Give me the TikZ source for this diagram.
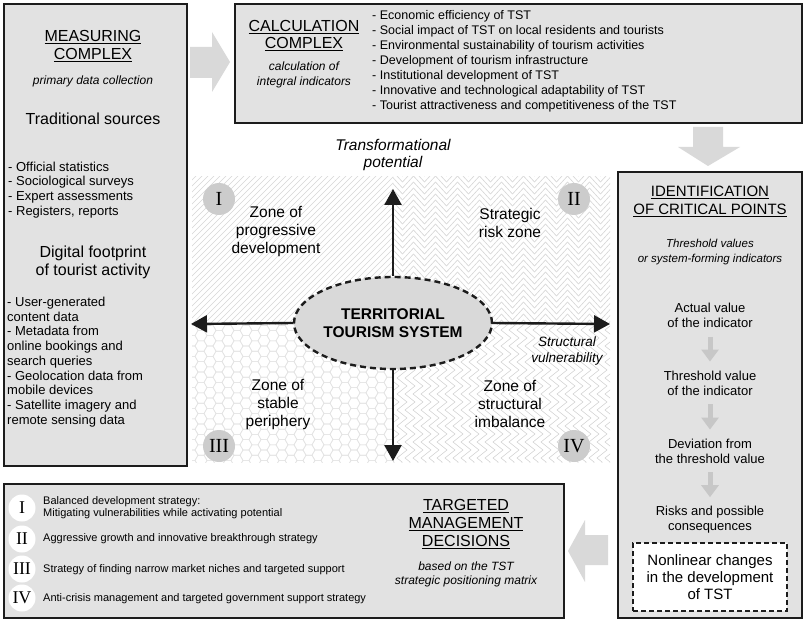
\documentclass[tikz,border=0pt]{standalone}
\usepackage{fontspec}
\setmainfont{Liberation Sans}
\newfontfamily\romanfont{Liberation Serif}
\usetikzlibrary{shapes.geometric,arrows.meta,decorations.pathmorphing}
\definecolor{boxfill}{HTML}{E2E2E2}
\definecolor{bigarrow}{HTML}{D9D9D9}
\definecolor{pat}{HTML}{D6D6D6}
\definecolor{patlight}{HTML}{E4E4E4}
\definecolor{ink}{HTML}{1C1C1C}
\newcommand\fsz[2]{\fontsize{#1}{#2}\selectfont}
\begin{document}
\begin{tikzpicture}[x=1pt,y=-1pt,
  box/.style={draw=ink, line width=2.4, fill=boxfill, inner sep=0, anchor=north west},
  hdr/.style={font=\fsz{16}{18}, align=center, inner sep=1},
  sub/.style={font=\fsz{12}{15}\itshape, align=center, inner sep=1},
  lst/.style={font=\fsz{13}{14.75}, align=left, anchor=west, inner sep=0},
  clst/.style={font=\fsz{12.5}{15}, align=left, anchor=west, inner sep=0},
  stxt/.style={font=\fsz{13}{15}, align=center, inner sep=2},
  zone/.style={font=\fsz{15.5}{18}, align=center, inner sep=1},
  strat/.style={font=\fsz{11}{11.5}, align=left, anchor=west, inner sep=0},
  rom/.style={circle, fill=black!20, minimum size=32, inner sep=0, font=\romanfont\fsz{20}{20}},
  romw/.style={circle, fill=white, minimum size=27, inner sep=0, font=\romanfont\fsz{18}{18}},
  axis/.style={draw=ink, line width=2.4, -{Triangle[length=16,width=17]}},
  sarrow/.style={draw=black!22, line width=5, -{Triangle[length=12,width=17]}, shorten <=7, shorten >=7},
  pline/.style={draw=pat, line width=0.6}
]
% canvas
\path[fill=white] (0,0) rectangle (803,620);
\useasboundingbox (0,0) rectangle (803,620);

% ---------- quadrant patterns ----------
\begin{scope}
  \clip (192,177) rectangle (393,324);
  \foreach \i in {40,46,...,400} \draw[pline] (\i,326) -- (\i+152,174);
\end{scope}
\begin{scope}
  \clip (393,177) rectangle (610,324);
  \foreach \y in {170,176,...,332} \draw[pline, decorate, decoration={zigzag, segment length=22, amplitude=6}] (386,\y) -- (618,\y);
\end{scope}
\begin{scope}
  \clip (192,324) rectangle (393,462);
  \foreach \c in {0,...,23} {
    \foreach \r in {0,...,14} {
      \pgfmathsetmacro\cx{192+\c*9}
      \pgfmathsetmacro\cy{320+\r*10.4+mod(\c,2)*5.2}
      \draw[draw=patlight, line width=0.6] (\cx+6,\cy) -- (\cx+3,\cy+5.2) -- (\cx-3,\cy+5.2) -- (\cx-6,\cy) -- (\cx-3,\cy-5.2) -- (\cx+3,\cy-5.2) -- cycle;
    }
  }
\end{scope}
\begin{scope}
  \clip (393,324) rectangle (610,462);
  \foreach \x in {386,394,...,618} \draw[pline, decorate, decoration={zigzag, segment length=16, amplitude=5}] (\x,318) -- (\x,468);
\end{scope}

% ---------- boxes ----------
\node[box, minimum width=183, minimum height=462] (meas) at (3,3) {};
\node[box, minimum width=567, minimum height=119] (calc) at (234,3) {};
\node[box, minimum width=184, minimum height=446] (ident) at (617,171) {};
\node[box, minimum width=560, minimum height=134] (strat) at (3,483) {};

% ---------- big gray arrows ----------
\fill[bigarrow] (190,47) -- (212,47) -- (212,32) -- (230,62) -- (212,92) -- (212,78) -- (190,78) -- cycle;
\fill[bigarrow] (693,127) -- (723,127) -- (723,147) -- (740,147) -- (708,166) -- (678,147) -- (693,147) -- cycle;
\fill[bigarrow] (608,535) -- (608,565) -- (585,565) -- (585,582) -- (568,551) -- (585,520) -- (585,535) -- cycle;

% ---------- measuring complex ----------
\node[hdr] (measH) at (93,46) {\underline{MEASURING}\\\underline{COMPLEX}};
\node[sub] (measS) at (93,81) {primary data collection};
\node[hdr] (trad) at (93,119) {Traditional sources};
\node[lst] (tradL) at (8,190) {- Official statistics\\- Sociological surveys\\- Expert assessments\\- Registers, reports};
\node[hdr] (digi) at (93,262) {Digital footprint\\of tourist activity};
\node[lst] (digiL) at (7,362) {- User-generated\\content data\\- Metadata from\\online bookings and\\search queries\\- Geolocation data from\\mobile devices\\- Satellite imagery and\\remote sensing data};

% ---------- calculation complex ----------
\node[hdr, font=\fsz{16}{17.5}] (calcH) at (304,35.5) {\underline{CALCULATION}\\\underline{COMPLEX}};
\node[sub] (calcS) at (304,74.5) {calculation of\\integral indicators};
\node[clst] (calcL) at (372,61) {- Economic efficiency of TST\\- Social impact of TST on local residents and tourists\\- Environmental sustainability of tourism activities\\- Development of tourism infrastructure\\- Institutional development of TST\\- Innovative and technological adaptability of TST\\- Tourist attractiveness and competitiveness of the TST};

% ---------- identification ----------
\node[hdr, font=\fsz{15}{18}] (idH) at (710,201) {\underline{IDENTIFICATION}\\\underline{OF CRITICAL POINTS}};
\node[sub, font=\fsz{11.5}{15}\itshape] (idS) at (710,252.5) {Threshold values\\or system-forming indicators};
\node[stxt] (s1) at (710,315.5) {Actual value\\of the indicator};
\node[stxt] (s2) at (710,383) {Threshold value\\of the indicator};
\node[stxt] (s3) at (710,451) {Deviation from\\the threshold value};
\node[stxt] (s4) at (710,520) {Risks and possible\\consequences};
\draw[sarrow] (s1) -- (s2);
\draw[sarrow] (s2) -- (s3);
\draw[sarrow] (s3) -- (s4);
\node[draw=ink, line width=2.4, dash pattern=on 5pt off 3pt, fill=white, minimum width=154, minimum height=68, inner sep=0, font=\fsz{15}{17}, align=center] (nl) at (710,577) {Nonlinear changes\\in the development\\of TST};

% ---------- strategies ----------
\node[romw] (r1) at (22,508) {I};
\node[romw] (r2) at (22,539) {II};
\node[romw] (r3) at (22,569) {III};
\node[romw] (r4) at (22,598) {IV};
\node[strat] (t1) at (43,507.5) {Balanced development strategy:\\Mitigating vulnerabilities while activating potential};
\node[strat] (t2) at (43,539) {Aggressive growth and innovative breakthrough strategy};
\node[strat] (t3) at (43,570) {Strategy of finding narrow market niches and targeted support};
\node[strat] (t4) at (43,599) {Anti-crisis management and targeted government support strategy};
\node[hdr] (tgH) at (466,524) {\underline{TARGETED}\\\underline{MANAGEMENT}\\\underline{DECISIONS}};
\node[sub, font=\fsz{12}{14}\itshape] (tgS) at (466,574) {based on the TST\\strategic positioning matrix};

% ---------- centre matrix ----------
\node[ellipse, draw=ink, line width=2.4, dash pattern=on 6pt off 4pt, fill=black!15, minimum width=198, minimum height=92, inner sep=0, font=\bfseries\fsz{15.5}{18}, align=center] (ts) at (393,323) {TERRITORIAL\\TOURISM SYSTEM};
\coordinate (axT) at (393,189);
\coordinate (axB) at (393,461);
\coordinate (axL) at (191,324);
\coordinate (axR) at (610,324);
\draw[axis] (ts.north) -- (axT);
\draw[axis] (ts.south) -- (axB);
\draw[axis] (ts.west) -- (axL);
\draw[axis] (ts.east) -- (axR);
\node[font=\fsz{15.5}{17}\itshape, align=center, inner sep=1] (tp) at (393,154.5) {Transformational\\potential};
\node[font=\fsz{13.5}{16}\itshape, align=center, inner sep=1] (sv) at (567,351.5) {Structural\\vulnerability};
\node[zone] (z1) at (276,232) {Zone of\\progressive\\development};
\node[zone] (z2) at (510,223) {Strategic\\risk zone};
\node[zone] (z3) at (278,404) {Zone of\\stable\\periphery};
\node[zone] (z4) at (510,404) {Zone of\\structural\\imbalance};
\node[rom] (q1) at (219,199) {I};
\node[rom] (q2) at (574,199) {II};
\node[rom] (q3) at (219,446) {III};
\node[rom] (q4) at (574,446) {IV};
\end{tikzpicture}
\end{document}
